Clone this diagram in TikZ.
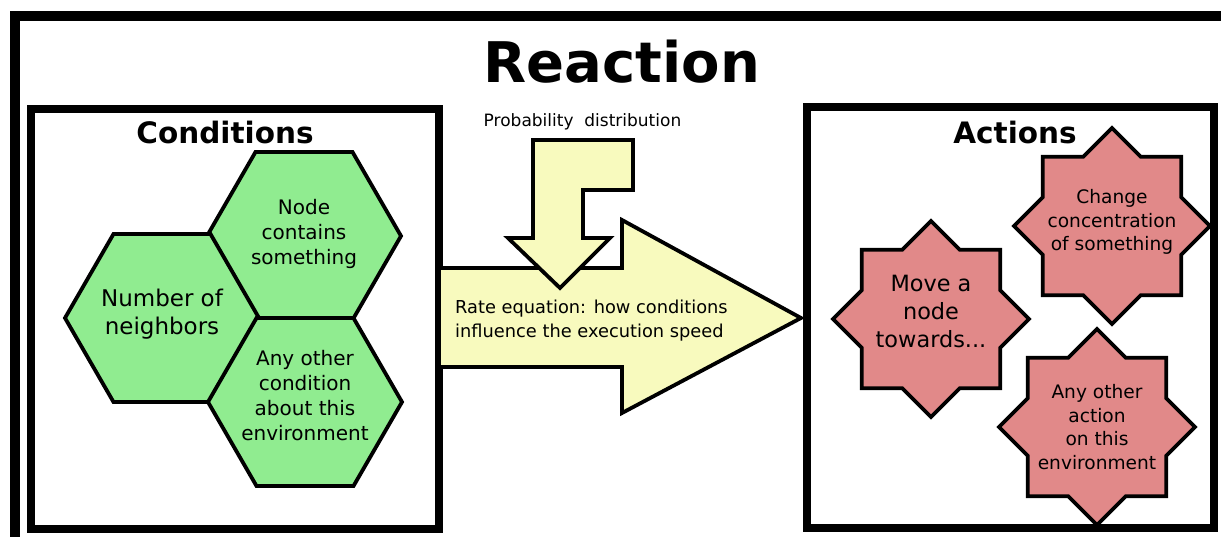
\documentclass[tikz,border=0pt]{standalone}
\usepackage{fontspec}
\setmainfont{DejaVu Sans}
\usetikzlibrary{shapes.geometric}
\usetikzlibrary{positioning}
\definecolor{condgreen}{RGB}{144,236,144}
\definecolor{actred}{RGB}{225,137,137}
\definecolor{rateyellow}{RGB}{248,250,190}
\tikzset{x=1pt, y=-1pt, % One unit is one pixel, y grows downwards
bigbox/.style={ % Sets the properties for the two big boxes
draw,
line width=8pt,
inner sep=0pt},
boxtitle/.style={ % Headings of the boxes
font=\bfseries\fontsize{29.5}{34}\selectfont},
condition/.style={ % Sets the properties for each condition
draw,
line width=3.8pt,
fill=condgreen,
regular polygon, regular polygon sides=6,
minimum size=194pt,
inner sep=0pt},
action/.style={ % Sets the properties for each action
draw,
line width=3.8pt,
fill=actred,
star, star points=8, star point ratio=1.3066,
minimum size=196pt,
inner sep=0pt},
inside/.style={ % Text set inside a shape
align=center,
font=\fontsize{20}{25}\selectfont},
ratearrow/.style={ % Yellow arrows
draw,
line width=3.8pt,
fill=rateyellow,
line join=miter}}

\begin{document}
\begin{tikzpicture}
    \clip (0,0) rectangle (1221,537);
    \fill[white] (0,0) rectangle (1221,537);
    \draw[line width=10pt] (15,16) rectangle (1260,580);
    \node[font=\bfseries\fontsize{56}{64}\selectfont] (reaction) at (622,62) {Reaction};
    % the two boxes
    \node[bigbox, minimum width=408pt, minimum height=420pt] (conditions) at (235,319) {};
    \node[bigbox, minimum width=407pt, minimum height=420pt] (actions) at (1010,317.5) {};
    \node[boxtitle] (condtitle) at (225,133) {Conditions};
    \node[boxtitle] (acttitle) at (1015,133) {Actions};
    % conditions
    \node[condition, label={[inside, yshift=2pt]center:Node\\contains\\something}] (contains) at (304,236) {};
    \node[condition, label={[inside, yshift=4pt, font=\fontsize{23}{28}\selectfont]center:Number of\\neighbors}] (neighbors) at (162,318) {};
    \node[condition, label={[inside, yshift=6pt]center:Any other\\condition\\about this\\environment}] (othercond) at (305,402) {};
    % rate equation
    \draw[ratearrow] (439,268) -- (622,268) -- (622,220) -- (801,318) -- (622,413) -- (622,367) -- (439,367) -- cycle;
    \node[anchor=west, inner sep=0pt, align=left, font=\fontsize{17.8}{24}\selectfont] (rate) at (455,321) {Rate equation: how conditions\\influence the execution speed};
    \draw[ratearrow] (533,140) -- (633,140) -- (633,190) -- (583,190) -- (583,238) -- (610,238) -- (560,288) -- (508,238) -- (533,238) -- cycle;
    \node[font=\fontsize{17}{20}\selectfont] (probability) at (582.5,122) {Probability\ \ distribution};
    % actions
    \node[action, label={[inside, yshift=8pt, font=\fontsize{22.4}{28}\selectfont]center:Move a\\node\\towards...}] (move) at (931,319) {};
    \node[action, label={[inside, yshift=4pt, font=\fontsize{18.6}{23.5}\selectfont]center:Change\\concentration\\of something}] (concentration) at (1112,226) {};
    \node[action, label={[inside, font=\fontsize{18.6}{23.5}\selectfont]center:Any other\\action\\on this\\environment}] (otheraction) at (1097,427) {};
  \end{tikzpicture}
\end{document}
